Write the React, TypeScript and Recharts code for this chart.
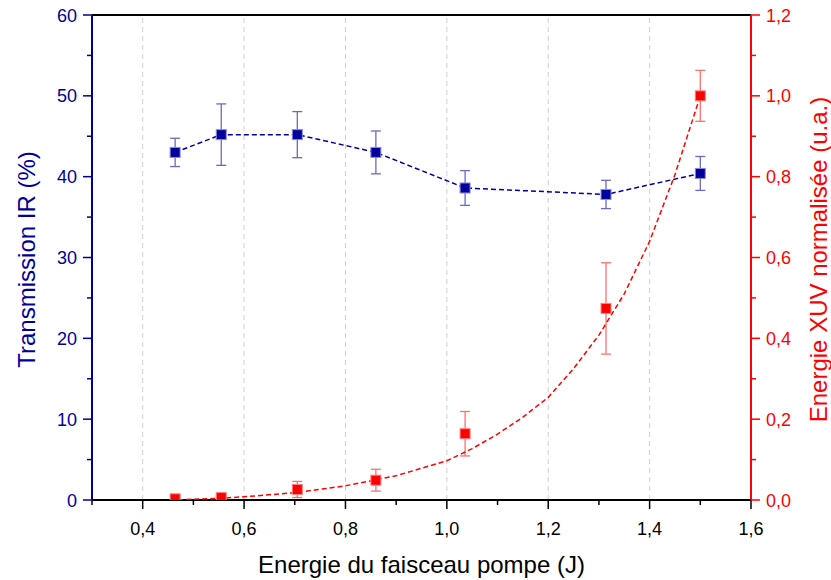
import React from 'react';
import { ComposedChart, Scatter, XAxis, YAxis, ErrorBar, ReferenceLine } from 'recharts';

// measured points (pump energy in J)
const energy = [0.464, 0.555, 0.705, 0.86, 1.036, 1.314, 1.5];
const transmission = [43.0, 45.2, 45.2, 43.0, 38.6, 37.8, 40.4];
const transmissionErr = [1.75, 3.8, 2.85, 2.65, 2.15, 1.75, 2.1];
const xuv = [0.003, 0.006, 0.026, 0.049, 0.164, 0.474, 1.0];
const xuvErr = [0.004, 0.004, 0.02, 0.027, 0.055, 0.113, 0.063];

// dashed fit curve through the XUV points
const fitEnergy = [0.47, 0.5, 0.55, 0.6, 0.7, 0.8, 0.9, 1.0, 1.05, 1.1, 1.15, 1.2, 1.25, 1.3, 1.35, 1.4, 1.45, 1.5];
const fitXuv = [0, 0.002, 0.004, 0.008, 0.018, 0.035, 0.06, 0.097, 0.127, 0.163, 0.205, 0.254, 0.325, 0.408, 0.51, 0.64, 0.805, 1.0];

const xTicks = [0.3, 0.4, 0.5, 0.6, 0.7, 0.8, 0.9, 1.0, 1.1, 1.2, 1.3, 1.4, 1.5, 1.6];
const leftTicks = [0, 5, 10, 15, 20, 25, 30, 35, 40, 45, 50, 55, 60];
const rightTicks = [0, 0.1, 0.2, 0.3, 0.4, 0.5, 0.6, 0.7, 0.8, 0.9, 1.0, 1.1, 1.2];
const gridX = [0.4, 0.6, 0.8, 1.0, 1.2, 1.4];

const BLUE = '#000099';
const RED = '#ff0000';
const FONT = '"Liberation Sans", Arial, sans-serif';

const irRows = energy.map((x, i) => ({ x, ir: transmission[i], irErr: transmissionErr[i] }));
const xuvRows = energy.map((x, i) => ({ x, xuv: xuv[i], xuvErr: xuvErr[i] }));
const fitRows = fitEnergy.map((x, i) => ({ x, xuv: fitXuv[i] }));

const fmt = (v: number) => v.toFixed(1).replace('.', ',');
const evenTenth = (v: number) => Math.round(v * 10) % 2 === 0;

const XTick = (props: any) => {
  const { x, y, payload } = props;
  const major = evenTenth(payload.value) && payload.value > 0.35;
  return (
    <g>
      <line x1={x} y1={y} x2={x} y2={y + (major ? 9 : 5)} stroke="#000" strokeWidth={1.5} />
      {major && (
        <text x={x} y={y + 35} textAnchor="middle" fontSize={18} fill="#000" fontFamily={FONT}>
          {fmt(payload.value)}
        </text>
      )}
    </g>
  );
};

const LeftTick = (props: any) => {
  const { x, y, payload } = props;
  const major = payload.value % 10 === 0;
  return (
    <g>
      <line x1={x} y1={y} x2={x - (major ? 9 : 5)} y2={y} stroke={BLUE} strokeWidth={1.5} />
      {major && (
        <text x={x - 15} y={y + 6.5} textAnchor="end" fontSize={18} fill={BLUE} fontFamily={FONT}>
          {payload.value}
        </text>
      )}
    </g>
  );
};

const RightTick = (props: any) => {
  const { x, y, payload } = props;
  const major = evenTenth(payload.value);
  return (
    <g>
      <line x1={x} y1={y} x2={x + (major ? 9 : 5)} y2={y} stroke={RED} strokeWidth={1.5} />
      {major && (
        <text x={x + 15} y={y + 6.5} textAnchor="start" fontSize={18} fill={RED} fontFamily={FONT}>
          {fmt(payload.value)}
        </text>
      )}
    </g>
  );
};

const AxisTitle = (props: any) => {
  const { viewBox, side, text, color } = props;
  if (side === 'bottom') {
    const cx = viewBox.x + viewBox.width / 2;
    return (
      <text x={cx} y={viewBox.y + 73} textAnchor="middle" fontSize={24} fill={color} fontFamily={FONT}>
        {text}
      </text>
    );
  }
  const bx = side === 'left' ? viewBox.x + 35 : viewBox.x + 76;
  const cy = viewBox.y + viewBox.height / 2 + 2;
  return (
    <text
      x={bx}
      y={cy}
      transform={`rotate(-90, ${bx}, ${cy})`}
      textAnchor="middle"
      fontSize={24}
      fill={color}
      fontFamily={FONT}
    >
      {text}
    </text>
  );
};

const square = (fill: string, edge: string) => (props: any) => {
  const { cx, cy } = props;
  if (cx == null || cy == null) return <g />;
  return <rect x={cx - 5} y={cy - 5} width={10} height={10} fill={fill} stroke={edge} strokeWidth={1} />;
};

export default function App() {
  return (
    <div style={{ position: 'absolute', left: 0, top: 0, width: 831, height: 580, background: '#fff' }}>
      <ComposedChart width={831} height={580} margin={{ top: 15, right: 0, bottom: 0, left: 0 }}>
        <XAxis
          type="number"
          dataKey="x"
          domain={[0.3, 1.6]}
          ticks={xTicks}
          interval={0}
          allowDataOverflow
          height={80}
          tickSize={0}
          tickMargin={0}
          tickLine={false}
          axisLine={{ stroke: '#000', strokeWidth: 2 }}
          tick={<XTick />}
          label={<AxisTitle side="bottom" text="Energie du faisceau pompe (J)" color="#000" />}
        />
        <YAxis
          yAxisId="left"
          dataKey="ir"
          type="number"
          domain={[0, 60]}
          ticks={leftTicks}
          interval={0}
          allowDataOverflow
          width={92}
          tickSize={0}
          tickMargin={0}
          tickLine={false}
          axisLine={{ stroke: BLUE, strokeWidth: 2 }}
          tick={<LeftTick />}
          label={<AxisTitle side="left" text="Transmission IR (%)" color={BLUE} />}
        />
        <YAxis
          yAxisId="right"
          orientation="right"
          dataKey="xuv"
          type="number"
          domain={[0, 1.2]}
          ticks={rightTicks}
          interval={0}
          allowDataOverflow
          width={80}
          tickSize={0}
          tickMargin={0}
          tickLine={false}
          axisLine={{ stroke: RED, strokeWidth: 2 }}
          tick={<RightTick />}
          label={<AxisTitle side="right" text="Energie XUV normalisée (u.a.)" color={RED} />}
        />
        {gridX.map((g) => (
          <ReferenceLine key={g} x={g} yAxisId="left" stroke="#cfcfcf" strokeWidth={1} strokeDasharray="5 4" />
        ))}
        <ReferenceLine y={60} yAxisId="left" stroke="#000" strokeWidth={2} />
        <Scatter
          data={fitRows}
          yAxisId="right"
          dataKey="xuv"
          isAnimationActive={false}
          line={{ stroke: RED, strokeWidth: 1.5, strokeDasharray: '5 3' }}
          shape={() => <g />}
        />
        <Scatter
          data={xuvRows}
          yAxisId="right"
          dataKey="xuv"
          isAnimationActive={false}
          shape={square(RED, '#ff8080')}
        >
          <ErrorBar dataKey="xuvErr" direction="y" width={5} stroke="#ff6f6f" strokeWidth={1.3} />
        </Scatter>
        <Scatter
          data={irRows}
          yAxisId="left"
          dataKey="ir"
          isAnimationActive={false}
          line={{ stroke: '#0000a0', strokeWidth: 1.5, strokeDasharray: '5 3' }}
          shape={square('#00009c', '#8c8cd6')}
        >
          <ErrorBar dataKey="irErr" direction="y" width={5} stroke="#6a6ac4" strokeWidth={1.3} />
        </Scatter>
      </ComposedChart>
    </div>
  );
}
